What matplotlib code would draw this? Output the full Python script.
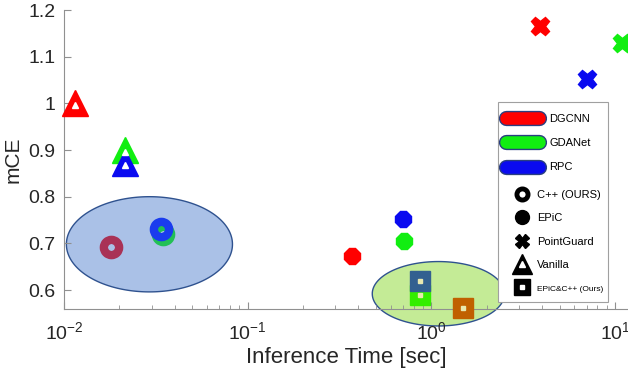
import numpy as np
import matplotlib
matplotlib.use('Agg')
import matplotlib.pyplot as plt
from matplotlib.lines import Line2D
from matplotlib.patches import Rectangle
import matplotlib.patheffects as pe
from matplotlib.ticker import FixedLocator, FixedFormatter, LogLocator, NullFormatter

plt.rcParams['font.family'] = ['Liberation Sans', 'DejaVu Sans']

# models: DGCNN, GDANet, RPC
models = ['DGCNN', 'GDANet', 'RPC']
base_colors = ['#ff0000', '#11ee11', '#0a0af0']
ring_colors = ['#a93256', '#22c055', '#1a3cee']
square_colors = ['#c06000', '#33ee00', '#336090']

# (inference time [sec], mCE) per method, order = models
vanilla_t = [0.0115, 0.0215, 0.0215]
vanilla_mce = [1.0, 0.90, 0.872]
cpp_t = [0.018, 0.0345, 0.0338]
cpp_mce = [0.692, 0.72, 0.73]
epic_t = [0.37, 0.71, 0.70]
epic_mce = [0.672, 0.705, 0.752]
pg_t = [3.9, 10.9, 7.0]
pg_mce = [1.165, 1.13, 1.052]
combo_t = [1.48, 0.87, 0.87]
combo_mce = [0.562, 0.59, 0.62]

method_labels = ['C++ (OURS)', 'EPiC', 'PointGuard', 'Vanilla', 'EPiC&C++ (Ours)']

# highlight ellipses: (log10 center time, center mCE, half-width in decades, half-height)
ellipses = [(-1.535, 0.698, 0.452, 0.102, '#aac1e7'),
            (0.038, 0.592, 0.36, 0.069, '#c4eb96')]

fig = plt.figure(figsize=(6.28, 3.79), dpi=100)
ax = fig.add_axes([64/628, 0.1855, 1 - 64/628, 0.9736 - 0.1855])
ax.set_xscale('log')
ax.set_xlim(0.01, 10**1.07)
ax.set_ylim(0.56, 1.2)

t = np.linspace(0, 2*np.pi, 300)
for cx, cy, a, b, fc in ellipses:
    ax.fill(10**(cx + a*np.cos(t)), cy + b*np.sin(t), fc=fc, ec='#2f528f', lw=1,
            clip_on=False, zorder=1)

for i in range(3):
    c = base_colors[i]
    ax.plot(vanilla_t[i], vanilla_mce[i], marker='^', ms=19, color=c, ls='none', zorder=3, clip_on=False)
    ax.plot(vanilla_t[i], vanilla_mce[i] - 0.004, marker='^', ms=4, color='white', ls='none', zorder=3.1)
    ax.plot(epic_t[i], epic_mce[i], marker='8', ms=12, color=c, ls='none', zorder=3)
    ax.plot(pg_t[i], pg_mce[i], marker='X', ms=13, color=c, mec=c, ls='none', zorder=3, clip_on=False)

for i in [0, 1, 2]:
    ax.plot(cpp_t[i], cpp_mce[i], marker='o', ms=11, mfc='none', mec=ring_colors[i], mew=6,
            ls='none', zorder=4)

for i in [0, 1, 2]:
    ax.plot(combo_t[i], combo_mce[i], marker='s', ms=15, color=square_colors[i], ls='none',
            zorder=4 + i*0.1, clip_on=False)
    ax.plot(combo_t[i], combo_mce[i], marker='s', ms=3.5, color='#e8e8b0', ls='none',
            zorder=4.05 + i*0.1, clip_on=False)

for s in ['top', 'right']:
    ax.spines[s].set_visible(False)
for s in ['left', 'bottom']:
    ax.spines[s].set_color('#909090')

ax.yaxis.set_major_locator(FixedLocator([0.6, 0.7, 0.8, 0.9, 1.0, 1.1, 1.2]))
ax.yaxis.set_major_formatter(FixedFormatter(['0.6', '0.7', '0.8', '0.9', '1', '1.1', '1.2']))
ax.xaxis.set_major_locator(FixedLocator([0.01, 0.1, 1, 10]))
ax.xaxis.set_major_formatter(FixedFormatter([r'$\mathregular{10^{-2}}$', r'$\mathregular{10^{-1}}$',
                                             r'$\mathregular{10^{0}}$', r'$\mathregular{10^{1}}$']))
ax.xaxis.set_minor_locator(LogLocator(base=10, subs=np.arange(2, 10)))
ax.xaxis.set_minor_formatter(NullFormatter())
ax.tick_params(which='both', direction='in', color='#909090', labelcolor='#262626', labelsize=14)
ax.tick_params(axis='x', which='major', length=5, pad=9)
ax.tick_params(axis='x', which='minor', length=3)
ax.tick_params(axis='y', length=5, pad=6)
ax.set_xlabel('Inference Time [sec]', fontsize=16, color='#262626', labelpad=3)
ax.set_ylabel('mCE', fontsize=15, color='#262626', labelpad=4)

# legend: colour entries and marker entries, inside one frame
fs = 8
outline = [pe.Stroke(linewidth=11, foreground='#2a3f80'), pe.Normal()]
color_handles = [Line2D([], [], color=c, lw=9, solid_capstyle='round', path_effects=outline)
                 for c in base_colors]
leg1 = fig.legend(color_handles, models, loc='upper left', bbox_to_anchor=(506/628, 1 - 114/379),
                  fontsize=fs, handlelength=3.0, labelspacing=1.28, handletextpad=0.9,
                  frameon=False, borderpad=0, borderaxespad=0)

marker_handles = [
    Line2D([], [], ls='none', marker='o', ms=8, mfc='none', mec='k', mew=3.5),
    Line2D([], [], ls='none', marker='o', ms=10, color='k'),
    Line2D([], [], ls='none', marker='X', ms=10, color='k'),
    (Line2D([], [], ls='none', marker='^', ms=15, color='k'),
     Line2D([], [], ls='none', marker='^', ms=4, color='white')),
    (Line2D([], [], ls='none', marker='s', ms=11, color='k'),
     Line2D([], [], ls='none', marker='s', ms=3.5, color='white')),
]
leg2 = fig.legend(marker_handles, method_labels, loc='upper left',
                  bbox_to_anchor=(511/628, 1 - 190/379),
                  fontsize=fs, handlelength=2.0, labelspacing=1.2, handletextpad=0.35,
                  frameon=False, borderpad=0, borderaxespad=0)
leg2.get_texts()[-1].set_fontsize(6)

fig.patches.append(Rectangle((498/628, 1 - 302/379), 110/628, 200/379, transform=fig.transFigure,
                             fc='white', ec='#a0a0a0', lw=0.8, zorder=0))

fig.savefig('out.png', dpi=100)
